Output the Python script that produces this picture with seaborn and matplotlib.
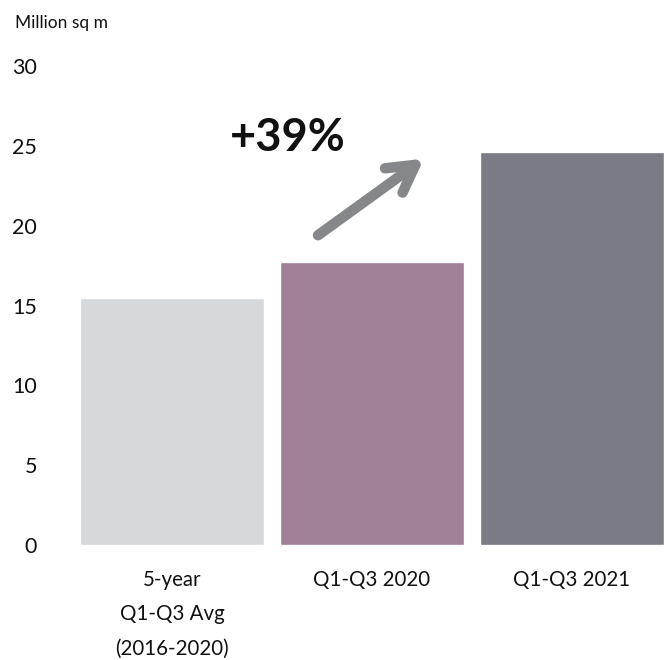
import matplotlib
matplotlib.use("Agg")
import matplotlib.pyplot as plt
import seaborn as sns
import pandas as pd

# Data
categories = ["5-year\nQ1-Q3 Avg\n(2016-2020)", "Q1-Q3 2020", "Q1-Q3 2021"]
values = [15.5, 17.7, 24.6]
bar_colors = ["#d5d9dc", "#a08096", "#797c84"]
y_ticks = [0, 5, 10, 15, 20, 25, 30]
unit_label = "Million sq m"

growth = round((values[2] / values[1] - 1) * 100)

sns.set_theme(style="white")
plt.rcParams["font.family"] = ["Lato", "DejaVu Sans"]

df = pd.DataFrame({"period": categories, "value": values})

fig = plt.figure(figsize=(6.7, 6.6), dpi=100)
ax = fig.add_axes([0.1194, 0.1742, 0.8716, 0.7258])

sns.barplot(data=df, x="period", y="value", hue="period", palette=bar_colors,
            width=0.92, saturation=1, legend=False, ax=ax)

ax.set_xlim(-0.46, 2.46)
ax.set_ylim(0, 30)
ax.set_yticks(y_ticks)
ax.set_yticklabels([str(t) for t in y_ticks], fontsize=15.5, color="#111111",
                   ha="right")
ax.tick_params(axis="y", length=0, pad=31)
ax.set_xticks(range(len(categories)))
ax.set_xticklabels(categories, fontsize=14.8, color="#111111",
                   linespacing=1.9, va="top")
ax.tick_params(axis="x", length=0, pad=18)
ax.set_xlabel("")
ax.set_ylabel("")
sns.despine(ax=ax, left=True, bottom=True)

fig.text(15 / 670, 1 - 23 / 660, unit_label, fontsize=12.5, color="#111111",
         ha="left", va="center")

# Growth arrow and label
ax.annotate("", xy=(1.26, 24.2), xytext=(0.73, 19.4),
            arrowprops=dict(arrowstyle="->,head_length=1.6,head_width=0.9",
                            color="#86878b", lw=7.5, capstyle="round",
                            joinstyle="round", shrinkA=0, shrinkB=0))
ax.text(0.578, 25.5, f"+{growth}%", fontsize=32.5, fontweight="bold",
        color="#111111", ha="center", va="center")

fig.savefig("out.png", dpi=100)
